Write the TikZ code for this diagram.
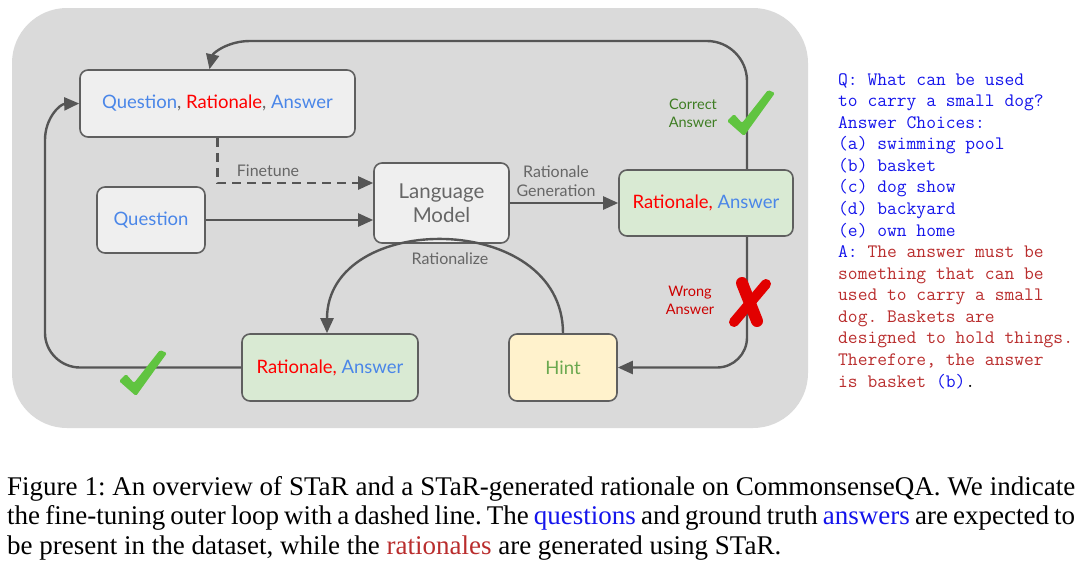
\documentclass[tikz,border=0pt]{standalone}
\usepackage{fontspec}
\usepackage{tikz}
\usetikzlibrary{arrows.meta,calc}
\newfontfamily\labelfont{Lato}
\newfontfamily\capfont{Liberation Serif}
\definecolor{bggray}{RGB}{218,218,218}
\definecolor{boxgray}{RGB}{239,239,239}
\definecolor{boxline}{RGB}{95,95,95}
\definecolor{boxgreen}{RGB}{217,234,211}
\definecolor{boxhint}{RGB}{255,242,204}
\definecolor{flowgray}{RGB}{85,85,85}
\definecolor{txtgray}{RGB}{102,102,102}
\definecolor{qblue}{RGB}{74,134,232}
\definecolor{rred}{RGB}{255,0,0}
\definecolor{hintgreen}{RGB}{106,168,79}
\definecolor{okgreen}{RGB}{62,125,35}
\definecolor{badred}{RGB}{204,0,0}
\definecolor{tickgreen}{RGB}{96,196,64}
\definecolor{crossred}{RGB}{226,0,0}
\definecolor{exblue}{RGB}{20,20,235}
\definecolor{exred}{RGB}{185,45,45}
\tikzset{
  stepbox/.style={draw=boxline, fill=boxgray, line width=1.6pt, rounded corners=8pt,
                  font=\labelfont\fontsize{18.5}{21}\selectfont, align=center},
  flow/.style={draw=flowgray, line width=2.4pt, -{Triangle[length=15pt,width=13pt]}},
  note/.style={font=\labelfont\fontsize{16}{19}\selectfont, align=center}
}
\newcommand{\tickmark}[1]{\fill[tickgreen, rounded corners=1.5pt, shift={#1}]
  (-1,3) -- (6,-4) -- (14,5) -- (40,-28) -- (47,-25) -- (16,18) -- cycle;}

\begin{document}
\frenchspacing
\begin{tikzpicture}[x=1pt, y=-1pt]
    \useasboundingbox (0,0) rectangle (1080,565);
    % background panel
    \fill[bggray, rounded corners=55pt] (12,8) rectangle (808,428);

    % boxes
    \node (qra) [stepbox, minimum width=275pt, minimum height=67pt] at (217.5,103.5)
        {\color{qblue}Question\color{txtgray}, \color{rred}Rationale\color{txtgray}, \color{qblue}Answer};
    \node (qbox) [stepbox, minimum width=108pt, minimum height=66pt] at (151,220)
        {\color{qblue}Question};
    \node (lm) [stepbox, minimum width=135pt, minimum height=80pt, text=txtgray,
                font=\labelfont\fontsize{20.5}{24}\selectfont] at (441.5,203)
        {Language\\Model};
    \node (ratop) [stepbox, fill=boxgreen, minimum width=174pt, minimum height=66pt] at (706,203)
        {\color{rred}Rationale, \color{qblue}Answer};
    \node (rabot) [stepbox, fill=boxgreen, minimum width=176pt, minimum height=67pt] at (330,367.5)
        {\color{rred}Rationale, \color{qblue}Answer};
    \node (hint) [stepbox, fill=boxhint, minimum width=108pt, minimum height=67pt] at (563,367.5)
        {\color{hintgreen}Hint};

    % connectors
    \draw[flow, dashed, dash pattern=on 9pt off 6pt] (qra.south) |- ([yshift=20pt]lm.west);
    \draw[flow] (qbox.east) -- (qbox.east -| lm.west);
    \draw[flow] (lm.east) -- (ratop.west);
    \draw[flow] ([xshift=41pt]ratop.north) -- (747,81)
        .. controls (747,59) and (729,41) .. (707,41) -- (250,41)
        .. controls (228,41) and (213,53) .. ([xshift=-8pt]qra.north);
    \draw[flow, rounded corners=30pt] ([xshift=41pt]ratop.south) |- (hint.east);
    \draw[flow] (rabot.west) -- (80,367.5)
        .. controls (61,367.5) and (45,352) .. (45,333) -- (45,140)
        .. controls (45,118) and (60,104) .. (qra.west);
    \draw[flow] (hint.north) .. controls (563,210) and (327,210) .. ([xshift=-3pt]rabot.north);

    % labels
    \node (ftlbl) [note, text=txtgray] at (268,171) {Finetune};
    \node (genlbl) [note, text=txtgray] at (556,181) {Rationale\\Generation};
    \node (ratlbl) [note, text=txtgray] at (450,259) {Rationalize};
    \node (oklbl) [note, text=okgreen, font=\labelfont\fontsize{14.5}{18}\selectfont] at (693,113) {Correct\\Answer};
    \node (badlbl) [note, text=badred, font=\labelfont\fontsize{14.5}{18}\selectfont] at (690,300) {Wrong\\Answer};

    % marks
    \tickmark{(728,118)}
    \tickmark{(120,378)}
    \draw[crossred, line width=12pt, line cap=round] (742,283) -- (757,321);
    \draw[crossred, line width=10pt, line cap=round] (766,284) -- (734,322);

    % example
    \node (example) [anchor=north west, inner sep=0pt, align=left,
                     font=\ttfamily\addfontfeature{FakeBold=0.8}\fontsize{19}{21.57}\selectfont] at (838,73)
        {\color{exblue}Q: What can be used\\
         \color{exblue}to carry a small dog?\\
         \color{exblue}Answer Choices:\\
         \color{exblue}(a) swimming pool\\
         \color{exblue}(b) basket\\
         \color{exblue}(c) dog show\\
         \color{exblue}(d) backyard\\
         \color{exblue}(e) own home\\
         \color{exblue}A: \color{exred}The answer must be\\
         \color{exred}something that can be\\
         \color{exred}used to carry a small\\
         \color{exred}dog. Baskets are\\
         \color{exred}designed to hold things.\\
         \color{exred}Therefore, the answer\\
         \color{exred}is basket \color{exblue}(b)\color{black}.};

    % caption
    \node (caption) [anchor=north west, inner sep=0pt, text width=1068pt, align=justify,
                     font=\capfont\fontsize{27}{29.5}\selectfont] at (7,476)
        {Figure 1: An overview of STaR and a STaR-generated rationale on CommonsenseQA. We indicate\linebreak
         the fine-tuning outer loop with a dashed line. The \textcolor{exblue}{questions} and ground truth
         \textcolor{exblue}{answers} are expected to\linebreak
         be present in the dataset, while the \textcolor{exred}{rationales} are generated using STaR.};
\end{tikzpicture}
\end{document}
